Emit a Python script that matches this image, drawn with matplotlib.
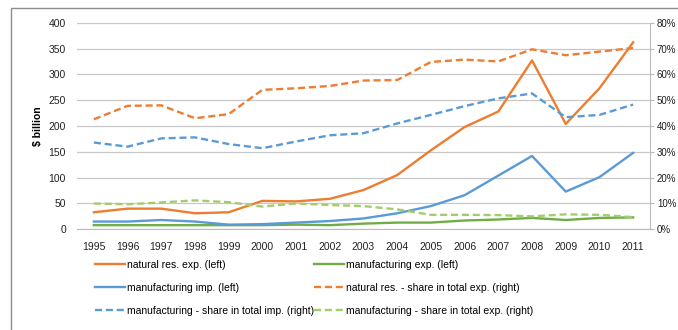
import matplotlib
matplotlib.use("Agg")
import matplotlib.pyplot as plt
from matplotlib.patches import Rectangle
from matplotlib.ticker import FuncFormatter

plt.rcParams['font.family'] = ['Liberation Sans', 'DejaVu Sans']

years = [str(y) for y in range(1995, 2012)]
nat_exp = [33, 40, 40, 31, 33, 55, 54, 59, 76, 105, 153, 198, 228, 327, 204, 273, 362]
manuf_imp = [15, 15, 18, 15, 9, 10, 13, 16, 21, 31, 45, 66, 104, 142, 73, 101, 148]
manuf_exp = [8, 8, 8, 8, 8, 8, 9, 8, 11, 13, 13, 17, 19, 22, 18, 22, 23]
nat_share = [42.6, 47.8, 48.0, 43.0, 44.6, 54.0, 54.6, 55.5, 57.6, 57.8, 64.8, 65.7, 65.0, 69.7, 67.4, 68.8, 70.2]
manuf_imp_share = [33.6, 32.0, 35.2, 35.6, 33.0, 31.4, 34.0, 36.4, 37.2, 41.0, 44.3, 47.7, 50.7, 52.6, 43.4, 44.3, 48.3]
manuf_exp_share = [10.0, 9.7, 10.4, 11.2, 10.5, 8.8, 10.0, 9.4, 9.0, 7.7, 5.6, 5.6, 5.5, 5.0, 5.8, 5.6, 4.7]

ORANGE = '#ED7D31'
BLUE = '#5B9BD5'
GREEN = '#70AD47'
LGREEN = '#A5CC6B'

fig = plt.figure(figsize=(6.78, 3.30), dpi=100)
ax = fig.add_axes([77/678, 1-229.3/330, (650-77)/678, (229.3-22.7)/330])
ax2 = ax.twinx()

x = list(range(len(years)))
lw = 1.7
l1, = ax.plot(x, nat_exp, color=ORANGE, lw=lw, label='natural res. exp. (left)')
l2, = ax.plot(x, manuf_exp, color=GREEN, lw=lw, label='manufacturing exp. (left)')
l3, = ax.plot(x, manuf_imp, color=BLUE, lw=lw, label='manufacturing imp. (left)')
l4, = ax2.plot(x, nat_share, color=ORANGE, lw=lw, ls=(0, (3, 1.6)), label='natural res. - share in total exp. (right)')
l5, = ax2.plot(x, manuf_imp_share, color=BLUE, lw=lw, ls=(0, (3, 1.6)), label='manufacturing - share in total imp. (right)')
l6, = ax2.plot(x, manuf_exp_share, color=LGREEN, lw=lw, ls=(0, (3, 1.6)), label='manufacturing - share in total exp. (right)')

ax.set_xlim(-0.5, 16.5)
ax.set_ylim(0, 400)
ax2.set_ylim(0, 80)
ax.set_yticks(range(0, 401, 50))
ax2.set_yticks(range(0, 81, 10))
ax2.yaxis.set_major_formatter(FuncFormatter(lambda v, p: f'{int(v)}%'))
ax.set_xticks(x)
ax.set_xticklabels(years)
ax.grid(axis='y', color='#C8C8C8', lw=0.9)
ax.set_axisbelow(True)
for a in (ax, ax2):
    for s in a.spines.values():
        s.set_visible(False)
ax2.spines['right'].set_visible(True)
ax2.spines['right'].set_color('#BBBBBB')
ax2.spines['bottom'].set_visible(True)
ax2.spines['bottom'].set_color('#BBBBBB')
ax.tick_params(axis='x', length=0, labelsize=7.5, colors='#222222', pad=9)
ax.tick_params(axis='y', length=0, labelsize=7.5, colors='#222222', pad=8)
ax2.tick_params(axis='y', length=3, color='#BBBBBB', labelsize=7, colors='#222222', pad=2)
ax.set_ylabel('$ billion', fontsize=7.5, fontweight='bold', labelpad=4)

handles = [l1, l3, l5, l2, l4, l6]
leg = fig.legend(handles=handles, labels=[h.get_label() for h in handles], ncol=2,
                 loc='upper left', bbox_to_anchor=(95/678, 1-260/330), frameon=False,
                 fontsize=7.5, handlelength=2.9, handletextpad=0.15, columnspacing=0.0,
                 labelspacing=1.25, borderaxespad=0, borderpad=0)

fig.patches.append(Rectangle((11/678, -0.02), 0.99, 1-8/330+0.02, transform=fig.transFigure,
                             fill=False, edgecolor='#8C8C8C', lw=1.0, clip_on=False))

fig.savefig('out.png', dpi=100)
